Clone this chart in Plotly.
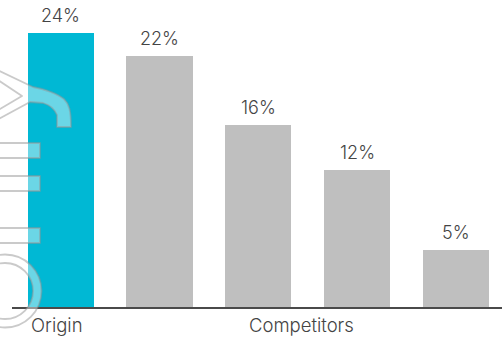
import base64
import plotly.graph_objects as go

# Market share by provider
groups = ["Origin", "Competitors", "Competitors", "Competitors", "Competitors"]
shares = [24, 22, 16, 12, 5]
group_labels = ["Origin", "Competitors"]

ORIGIN_CYAN = "#00B8D4"
COMPETITOR_GREY = "#BFBFBF"
TEXT = "#444444"
FONT = "Inter"

W, H = 502, 337
M = dict(l=12, r=0, t=22, b=30)
PW, PH = W - M["l"] - M["r"], H - M["t"] - M["b"]

xs = list(range(len(shares)))
colors = [ORIGIN_CYAN if g == "Origin" else COMPETITOR_GREY for g in groups]

fig = go.Figure(
    go.Bar(
        x=xs,
        y=shares,
        width=0.671,
        marker=dict(color=colors, line=dict(width=0)),
        hoverinfo="skip",
    )
)

# value labels above each bar
for x, v in zip(xs, shares):
    fig.add_annotation(
        x=x, y=v, xref="x", yref="y",
        text=f"{v}%", showarrow=False,
        yanchor="bottom", yshift=5,
        font=dict(family=FONT, size=18, color=TEXT, weight=300),
    )

# group labels under the axis, centred on their bars
for label in group_labels:
    idx = [i for i, g in enumerate(groups) if g == label]
    fig.add_annotation(
        x=sum(idx) / len(idx), y=0, xref="x", yref="paper",
        text=label, showarrow=False, borderpad=0,
        yanchor="top", yshift=-6, xshift=-4 if label == "Origin" else -6,
        font=dict(family=FONT, size=18.5, color=TEXT, weight=300),
    )

# faint outlined brand watermark along the left edge
fill = "rgba(255,255,255,0.42)"
stroke = "rgba(150,150,150,0.5)"
watermark_svg = f"""<svg xmlns="http://www.w3.org/2000/svg" width="{W}" height="{H}" viewBox="0 0 {W} {H}">
<g fill="{fill}" stroke="{stroke}" stroke-width="1.8" stroke-linejoin="round">
<path fill-rule="evenodd" d="M 41.5 291 A 36.5 36.5 0 1 1 -31.5 291 A 36.5 36.5 0 1 1 41.5 291 Z M 33 291 A 28 28 0 1 0 -23 291 A 28 28 0 1 0 33 291 Z"/>
<rect x="-10" y="143" width="50" height="15"/>
<rect x="-10" y="176" width="50" height="15"/>
<rect x="-10" y="228" width="50" height="15"/>
<path d="M -5 69 L 33 87 C 45 89 58 94 64 99 C 69 104 71 110 71 127 L 57 127 L 57 115 C 55 110 50 105 43 103 L 30 102 L -5 121 L -5 112 L 22 96 L -5 78 Z"/>
</g>
</svg>"""
fig.add_layout_image(
    source="data:image/svg+xml;base64," + base64.b64encode(watermark_svg.encode()).decode(),
    xref="paper", yref="paper",
    x=-M["l"] / PW, y=1 + M["t"] / PH,
    sizex=W / PW, sizey=H / PH,
    xanchor="left", yanchor="top",
    sizing="stretch", layer="above",
)

fig.update_layout(
    width=W, height=H,
    margin=M,
    paper_bgcolor="white",
    plot_bgcolor="white",
    showlegend=False,
    bargap=0,
    xaxis=dict(
        range=[-0.494, 4.468],
        showgrid=False, zeroline=False,
        showticklabels=False, ticks="",
        showline=True, linecolor="#4A4A4A", linewidth=2,
        fixedrange=True,
    ),
    yaxis=dict(
        range=[0, 25],
        visible=False,
        fixedrange=True,
    ),
)

fig.write_html("out.html", config=dict(displayModeBar=False))
